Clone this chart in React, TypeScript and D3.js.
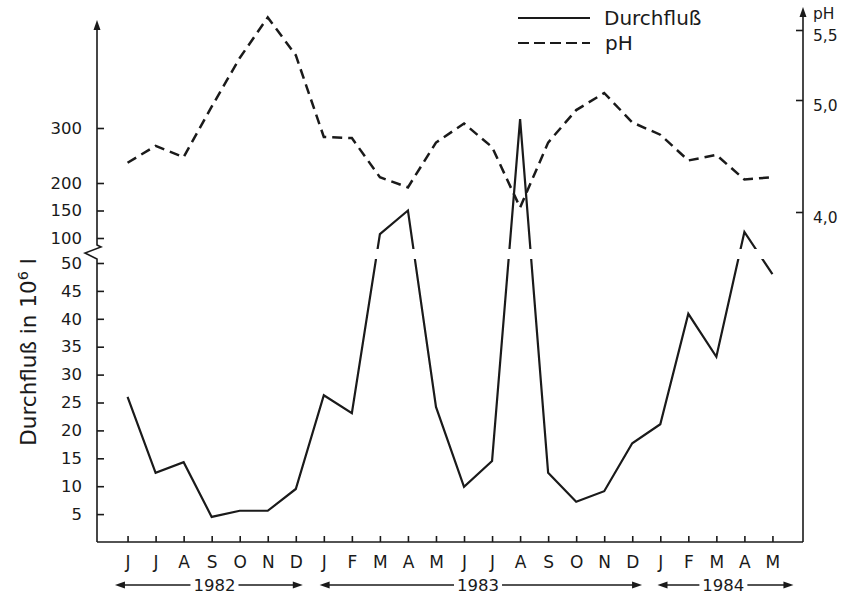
import * as d3 from 'd3';
import { useEffect, useRef } from 'react';

// June 1982 .. May 1984
const months = ['J', 'J', 'A', 'S', 'O', 'N', 'D', 'J', 'F', 'M', 'A', 'M', 'J', 'J', 'A', 'S', 'O', 'N', 'D', 'J', 'F', 'M', 'A', 'M'];
const flow = [26, 12.4, 14.3, 4.5, 5.6, 5.6, 9.5, 26.3, 23.1, 107, 150, 24.2, 9.9, 14.5, 316, 12.4, 7.2, 9.1, 17.7, 21.1, 40.9, 33.2, 111, 48];
const ph = [4.44, 4.59, 4.49, 4.94, 5.3, 5.59, 5.32, 4.67, 4.66, 4.31, 4.22, 4.62, 4.79, 4.58, 4.04, 4.62, 4.91, 5.05, 4.8, 4.69, 4.46, 4.51, 4.29, 4.31];
const flowTicks = [5, 10, 15, 20, 25, 30, 35, 40, 45, 50, 100, 150, 200, 300];
const phTicks = [4.0, 5.0, 5.5];
// year spans in month-index units (start, text centre, end)
const yearLabels = ['1982', '1983', '1984'];
const yearStart = [-0.45, 6.85, 18.9];
const yearMid = [3.1, 12.5, 21.25];
const yearEnd = [6.25, 18.35, 23.75];

const App = () => {
  const ref = useRef<SVGSVGElement>(null);

  useEffect(() => {
    const width = 841;
    const height = 594;
    const left = 97, right = 803, bottom = 542;

    const svg = d3.select(ref.current);
    svg.selectAll('*').remove();
    svg.attr('width', width).attr('height', height);

    const x = d3.scalePoint<number>().domain(d3.range(months.length)).range([left, right]).padding(1.09);
    const xi = d3.scaleLinear().domain([0, months.length - 1]).range([x(0)!, x(months.length - 1)!]);
    // broken axis: 0-50 linear, 100-300 compressed
    const yFlow = d3.scaleLinear().domain([0, 50, 100, 300]).range([bottom, 263, 238, 128]);
    const yPh = d3.scaleLinear().domain([4, 5, 5.5]).range([212, 100, 30]);

    const ink = '#1a1a1a';
    const font = '"DejaVu Sans", sans-serif';

    // clip out the break zone for the flow line
    const defs = svg.append('defs');
    const clip = defs.append('clipPath').attr('id', 'brk');
    clip.append('rect').attr('x', 0).attr('y', 0).attr('width', width).attr('height', 249);
    clip.append('rect').attr('x', 0).attr('y', 259).attr('width', width).attr('height', height - 259);

    // left axis
    const ax = svg.append('g').attr('transform', `translate(${left},0)`)
      .call(d3.axisLeft(yFlow).tickValues(flowTicks).tickSize(-7).tickPadding(15).tickFormat(d3.format('d')));
    ax.select('.domain').remove();
    ax.selectAll('line').attr('stroke', ink).attr('stroke-width', 1.6);
    ax.selectAll('text').attr('font-family', font).attr('font-size', 16.5).attr('fill', ink);

    svg.append('path').attr('d', `M${left},${bottom} V259 L${left - 12},253 L${left + 4},247 L${left},245 V24`)
      .attr('fill', 'none').attr('stroke', ink).attr('stroke-width', 1.6);
    svg.append('path').attr('d', `M${left},20 l-3.5,10 h7 Z`).attr('fill', ink);

    // right axis
    const ar = svg.append('g').attr('transform', `translate(${right},0)`)
      .call(d3.axisRight(yPh).tickValues(phTicks).tickSize(-7).tickPadding(10)
        .tickFormat(d => d3.format('.1f')(d as number).replace('.', ',')));
    ar.select('.domain').remove();
    ar.selectAll('line').attr('stroke', ink).attr('stroke-width', 1.6);
    ar.selectAll('text').attr('font-family', font).attr('font-size', 15.5).attr('fill', ink).attr('dy', '0.65em');
    svg.append('line').attr('x1', right).attr('x2', right).attr('y1', 12).attr('y2', bottom)
      .attr('stroke', ink).attr('stroke-width', 1.6);
    svg.append('path').attr('d', `M${right},7 l-3.5,10 h7 Z`).attr('fill', ink);
    svg.append('text').attr('x', right + 10).attr('y', 19).text('pH')
      .attr('font-family', font).attr('font-size', 15.5).attr('fill', ink);

    // bottom axis
    const ab = svg.append('g').attr('transform', `translate(0,${bottom})`)
      .call(d3.axisBottom(x).tickSize(-6).tickPadding(14).tickFormat(i => months[i as number]));
    ab.select('.domain').remove();
    ab.selectAll('line').attr('stroke', ink).attr('stroke-width', 1.6);
    ab.selectAll('text').attr('font-family', font).attr('font-size', 17).attr('fill', ink);
    svg.append('line').attr('x1', left).attr('x2', right).attr('y1', bottom).attr('y2', bottom)
      .attr('stroke', ink).attr('stroke-width', 1.6);

    // year arrows
    const ya = 585;
    yearLabels.forEach((lab, k) => {
      const x0 = xi(yearStart[k]), x1 = xi(yearEnd[k]), xm = xi(yearMid[k]);
      const half = 24;
      svg.append('line').attr('x1', x0 + 6).attr('x2', xm - half).attr('y1', ya).attr('y2', ya)
        .attr('stroke', ink).attr('stroke-width', 1.5);
      svg.append('line').attr('x1', xm + half).attr('x2', x1 - 6).attr('y1', ya).attr('y2', ya)
        .attr('stroke', ink).attr('stroke-width', 1.5);
      svg.append('path').attr('d', `M${x0},${ya} l10,-3.5 v7 Z`).attr('fill', ink);
      svg.append('path').attr('d', `M${x1},${ya} l-10,-3.5 v7 Z`).attr('fill', ink);
      svg.append('text').attr('x', xm).attr('y', ya + 6).attr('text-anchor', 'middle').text(lab)
        .attr('font-family', font).attr('font-size', 16.5).attr('fill', ink);
    });

    // y title
    const t = svg.append('text').attr('transform', 'translate(36,352) rotate(-90)')
      .attr('text-anchor', 'middle').attr('font-family', font).attr('font-size', 21.5).attr('fill', ink);
    t.append('tspan').text('Durchfluß in 10');
    t.append('tspan').attr('dy', -8).attr('font-size', 14.5).text('6');
    t.append('tspan').attr('dy', 8).text(' l');

    // series
    const flowLine = d3.line<number>().x((_, i) => x(i)!).y(d => yFlow(d));
    svg.append('path').datum(flow).attr('d', flowLine).attr('clip-path', 'url(#brk)')
      .attr('fill', 'none').attr('stroke', ink).attr('stroke-width', 2.2).attr('stroke-linejoin', 'miter');

    const phLine = d3.line<number>().x((_, i) => x(i)!).y(d => yPh(d));
    svg.append('path').datum(ph).attr('d', phLine)
      .attr('fill', 'none').attr('stroke', ink).attr('stroke-width', 2.5).attr('stroke-dasharray', '10,6');

    // legend
    const lg = svg.append('g');
    lg.append('line').attr('x1', 518).attr('x2', 590).attr('y1', 18).attr('y2', 18)
      .attr('stroke', ink).attr('stroke-width', 2);
    lg.append('text').attr('x', 604).attr('y', 25).text('Durchfluß')
      .attr('font-family', font).attr('font-size', 20).attr('fill', ink);
    lg.append('line').attr('x1', 518).attr('x2', 590).attr('y1', 43).attr('y2', 43)
      .attr('stroke', ink).attr('stroke-width', 2).attr('stroke-dasharray', '11,5');
    lg.append('text').attr('x', 605).attr('y', 50).text('pH')
      .attr('font-family', font).attr('font-size', 20).attr('fill', ink);
  }, []);

  return (
    <div style={{ position: 'absolute', left: 0, top: 0, background: '#fff' }}>
      <svg ref={ref}></svg>
    </div>
  );
};

export default App;
